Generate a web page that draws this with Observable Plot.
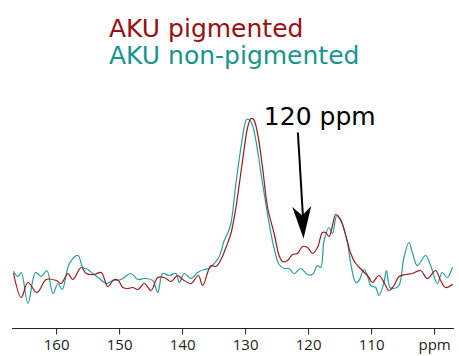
<!DOCTYPE html>
<html>
<head>
<meta charset="utf-8">
<script src="https://cdn.jsdelivr.net/npm/d3@7"></script>
<script src="https://cdn.jsdelivr.net/npm/@observablehq/plot@0.6"></script>
<style>
  html, body { margin: 0; padding: 0; background: #fff; }
  #wrap { width: 459px; height: 356px; overflow: hidden; }
  #legend { box-sizing: border-box; height: 75px; padding: 15px 0 0 109px; font-family: "DejaVu Sans", sans-serif; font-size: 25px; line-height: 27px; }
  #legend div { white-space: nowrap; }
</style>
</head>
<body>
<div id="wrap">
  <div id="legend"></div>
  <div id="chart"></div>
</div>
<script>
// Series names and colours
const seriesNames = ["AKU pigmented", "AKU non-pigmented"];
const seriesColors = ["#a01818", "#22a0a0"];
const legendColors = ["#9a0e0e", "#16958f"];

// AKU pigmented: chemical shift (ppm) and intensity (a.u.)
const pigPpm = [166.83,165.61,164.55,163.12,161.65,160.06,159.27,158.21,157.42,156.1,155.31,154.04,152.93,151.87,150.87,150.2,149.49,148.7,147.91,147.12,146.07,145.01,143.95,142.9,141.84,140.78,139.98,138.67,137.5,136.81,135.5,134.71,133.91,133.12,132.33,131.54,130.48,129.68,129.16,128.73,128.1,127.31,126.51,125.47,124.68,124.14,123.34,122.55,121.76,120.97,120.17,119.38,118.59,117.8,117.27,116.75,116.21,115.69,114.9,114.1,113.31,112.52,111.46,110.41,109.87,108.83,108.03,107.24,106.45,105.66,104.6,103.53,102.22,101.16,99.84,99.05,98.26,97.19];
const pigInt = [37,13,28,18,31,30,27,37,31,43,37,36,38,24,31,30,23,22,23,21,27,20,33,33,29,35,31,27,35,25,45,44,51,63,77,103,150,183,192,191,177,143,103,77,55,49,50,56,57,64,63,57,63,78,78,74,85,96,90,75,57,47,40,33,28,35,28,20,25,34,36,37,40,32,40,30,23,26];

// AKU non-pigmented: chemical shift (ppm) and intensity (a.u.)
const nonPpm = [166.83,166.13,165.61,164.55,163.34,162.44,161.54,160.59,159.79,159.11,157.96,156.6,155.83,155.04,154.25,153.2,152.14,151.08,149.76,148.19,147.12,146.07,144.74,143.95,143.15,142.11,141.05,140.52,139.73,138.67,137.61,136.56,135.77,134.98,134.18,133.39,132.85,132.33,131.54,130.74,130.22,129.84,129.43,128.89,128.1,127.31,126.26,125.47,124.68,123.88,123.09,122.3,121.24,120.17,119.38,118.59,118.07,117.54,116.75,116.21,115.53,114.9,113.84,113.31,112.52,112.0,111.2,110.67,110.14,109.35,108.83,108.03,107.65,107.08,106.45,105.66,104.87,104.07,103.53,102.74,101.43,100.63,99.57,98.78,97.99,97.19];
const nonInt = [39,34,38,7,38,34,40,17,27,21,47,55,43,41,37,32,27,30,31,37,31,32,30,18,37,35,37,28,37,32,38,41,42,47,54,70,77,87,127,163,183,191,191,185,160,127,87,62,46,42,42,37,42,36,36,45,43,70,83,77,95,91,68,47,28,30,41,35,25,23,15,28,40,23,22,25,53,68,58,45,55,45,27,38,33,43];

// Axis
const tickValues = [160, 150, 140, 130, 120, 110, 100];
const tickLabels = ["160", "150", "140", "130", "120", "110", "ppm"];
const xDomain = [167, 97];
const yDomain = [-18, 215];

// Annotation (data coordinates)
const noteText = "120 ppm";
const noteX = 127.1, noteY = 194;
const arrowFrom = [121.7, 178];
const arrowTo = [120.8, 72];

const data = [
  ...pigPpm.map((p, i) => ({ppm: p, v: pigInt[i], s: seriesNames[0]})),
  ...nonPpm.map((p, i) => ({ppm: p, v: nonInt[i], s: seriesNames[1]}))
];

// legend (HTML, above the svg)
const legend = document.getElementById("legend");
seriesNames.forEach((n, i) => {
  const d = document.createElement("div");
  d.textContent = n;
  d.style.color = legendColors[i];
  legend.appendChild(d);
});

// filled "stealth" arrow head symbol, tip at the point
const ang = Math.atan2(6, 106);
const head = {
  draw(ctx) {
    const pts = [[0, 0], [-9.5, -32], [0, -23], [9.5, -32]].map(([px, py]) => [
      px * Math.cos(ang) + py * Math.sin(ang),
      -px * Math.sin(ang) + py * Math.cos(ang)
    ]);
    ctx.moveTo(...pts[0]);
    for (let k = 1; k < pts.length; k++) ctx.lineTo(...pts[k]);
    ctx.closePath();
  }
};

const chart = Plot.plot({
  width: 459,
  height: 281,
  marginLeft: 12,
  marginRight: 6,
  marginTop: 20,
  marginBottom: 28,
  style: {fontFamily: "'Open Sans', sans-serif", fontSize: "15px", color: "#222", background: "white", overflow: "visible"},
  x: {domain: xDomain, ticks: tickValues, tickFormat: (d) => tickLabels[tickValues.indexOf(d)], tickSize: 6.5, tickPadding: 4.5, line: true, label: null},
  y: {domain: yDomain, axis: null},
  color: {domain: seriesNames, range: seriesColors},
  marks: [
    Plot.line(data.filter(d => d.s === seriesNames[1]), {x: "ppm", y: "v", stroke: "s", strokeWidth: 1.2, curve: "catmull-rom"}),
    Plot.line(data.filter(d => d.s === seriesNames[0]), {x: "ppm", y: "v", stroke: "s", strokeWidth: 1.2, curve: "catmull-rom"}),
    Plot.link([{x1: arrowFrom[0], y1: arrowFrom[1], x2: arrowTo[0], y2: arrowTo[1] + 12}], {x1: "x1", y1: "y1", x2: "x2", y2: "y2", stroke: "black", strokeWidth: 2}),
    Plot.dot([{x: arrowTo[0], y: arrowTo[1]}], {x: "x", y: "y", symbol: head, fill: "black", stroke: "none", r: 10}),
    Plot.text([noteText], {x: () => noteX, y: () => noteY, text: d => d, textAnchor: "start", fontSize: 25, fontFamily: "DejaVu Sans", fill: "black"})
  ]
});
document.getElementById("chart").appendChild(chart);
</script>
</body>
</html>
